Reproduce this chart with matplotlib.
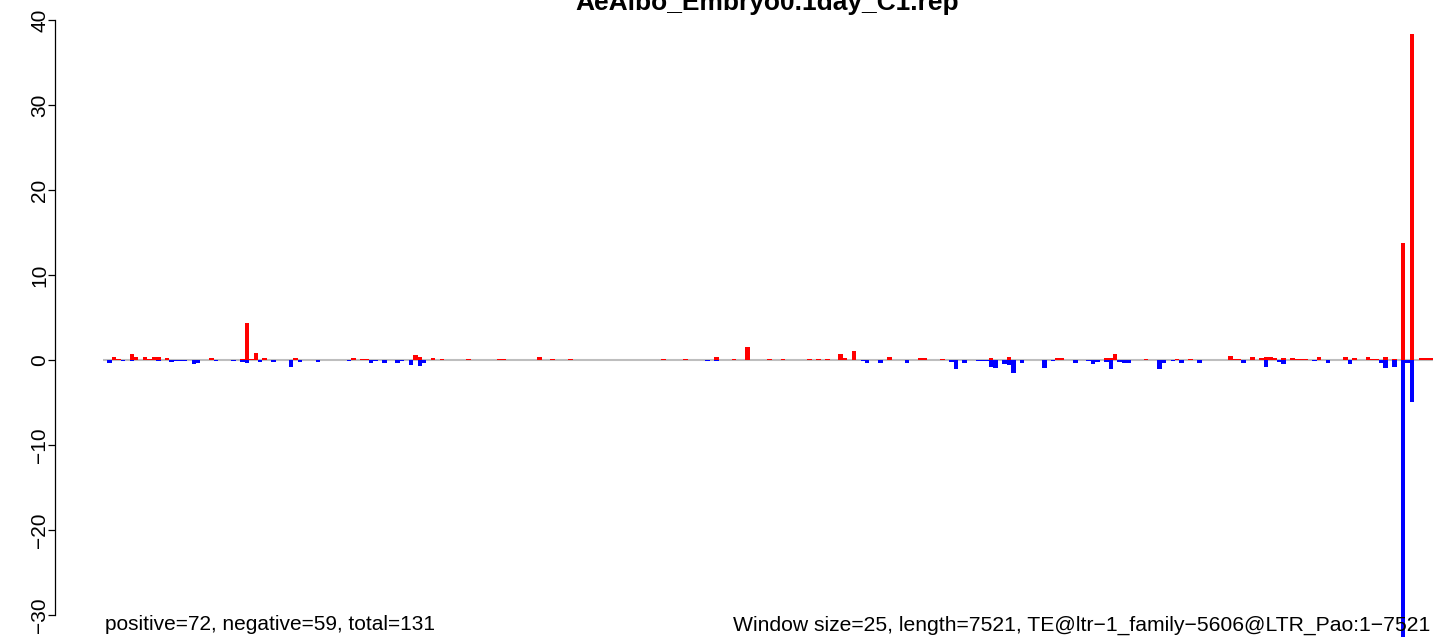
import matplotlib
matplotlib.use("Agg")
import matplotlib.pyplot as plt
import numpy as np

plt.rcParams['font.family'] = ['Liberation Sans', 'DejaVu Sans']

# window data (window size 25 over length 7521 -> 301 windows)
n_windows = 301
pos_idx = [2, 3, 6, 7, 9, 10, 11, 12, 14, 24, 31, 32, 33, 34, 36, 43, 56, 58, 59,
           70, 71, 74, 76, 82, 89, 90, 98, 101, 105, 126, 131, 138, 142, 145, 150,
           153, 159, 161, 163, 166, 167, 169, 177, 184, 185, 189, 200, 204, 215, 216,
           226, 227, 228, 235, 242, 245, 254, 255, 256, 259, 261, 262, 263, 264, 266,
           268, 269, 270, 271, 274, 280, 282, 285, 286, 287, 289, 291, 293, 295, 297,
           298, 299, 300]
pos_val = [0.35, 0.15, 0.7, 0.3, 0.35, 0.15, 0.35, 0.35, 0.2, 0.2, 0.15, 4.3, 0.15, 0.8,
           0.2, 0.2, 0.2, 0.15, 0.15, 0.55, 0.3, 0.2, 0.15, 0.15, 0.15, 0.15, 0.3, 0.15,
           0.15, 0.15, 0.15, 0.3, 0.15, 1.5, 0.15, 0.15, 0.15, 0.15, 0.15, 0.7, 0.2, 1.1,
           0.35, 0.2, 0.2, 0.15, 0.2, 0.35, 0.2, 0.2, 0.2, 0.2, 0.7, 0.15, 0.15, 0.15, 0.5,
           0.15, 0.15, 0.3, 0.2, 0.3, 0.3, 0.2, 0.2, 0.25, 0.15, 0.15, 0.15, 0.3, 0.3,
           0.2, 0.3, 0.15, 0.15, 0.3, 0.15, 13.8, 38.3, 0.2, 0.2, 0.2, 0.2]
neg_idx = [1, 4, 6, 12, 15, 16, 17, 18, 20, 21, 25, 29, 31, 32, 35, 38, 42, 44, 48, 55,
           60, 61, 63, 66, 67, 69, 71, 72, 136, 138, 171, 172, 175, 181, 191, 192, 194,
           197, 198, 199, 200, 201, 203, 204, 205, 207, 212, 214, 219, 222, 223, 224,
           226, 227, 229, 230, 231, 238, 239, 241, 243, 247, 257, 262, 265, 266, 273,
           276, 281, 288, 289, 291, 293, 294, 295]
neg_val = [-0.3, -0.1, -0.1, -0.1, -0.2, -0.1, -0.1, -0.1, -0.5, -0.3, -0.1, -0.1, -0.2,
           -0.4, -0.2, -0.2, -0.8, -0.2, -0.2, -0.1, -0.4, -0.1, -0.3, -0.3, -0.1, -0.6,
           -0.7, -0.4, -0.1, -0.1, -0.1, -0.4, -0.4, -0.4, -0.2, -1.1, -0.3, -0.1, -0.1,
           -0.1, -0.8, -1.0, -0.5, -0.6, -1.5, -0.4, -0.9, -0.1, -0.4, -0.1, -0.5, -0.2,
           -0.2, -1.1, -0.2, -0.4, -0.4, -1.1, -0.4, -0.1, -0.3, -0.3, -0.4, -0.8, -0.2,
           -0.5, -0.1, -0.3, -0.5, -0.4, -1.0, -0.8, -34.0, -0.4, -4.9]
yticks = [-30, -20, -10, 0, 10, 20, 30, 40]

title = "AeAlbo_Embryo0.1day_C1.rep"
left_note = "positive=72, negative=59, total=131"
right_note = "Window size=25, length=7521, TE@ltr\u22121_family\u22125606@LTR_Pao:1\u22127521"

pos = np.zeros(n_windows)
neg = np.zeros(n_windows)
pos[pos_idx] = pos_val
neg[neg_idx] = neg_val
x = np.arange(n_windows)

W, H = 1433, 637
fig = plt.figure(figsize=(W / 100, H / 100), dpi=100)
ax = fig.add_axes([55 / W, 0, 1 - 55 / W, 1])

# baseline
ax.plot([0, n_windows], [0, 0], color='#BEBEBE', lw=1.5, zorder=1, solid_capstyle='butt')
ax.bar(x, pos, width=1, align='edge', color='#FF0000', linewidth=0, zorder=2)
ax.bar(x, neg, width=1, align='edge', color='#0000FF', linewidth=0, zorder=2)

ax.set_xlim(-10.835, 300.23)
ax.set_ylim(-32.59, 42.35)

for s in ['top', 'right', 'bottom']:
    ax.spines[s].set_visible(False)
ax.spines['left'].set_bounds(-30, 40)
ax.spines['left'].set_linewidth(0.9)
ax.set_xticks([])
ax.set_yticks(yticks)
ax.set_yticklabels([str(t).replace('-', '\u2212') for t in yticks],
                   rotation=90, va='center', fontsize=15)
ax.tick_params(axis='y', length=5, width=0.9, pad=-1)

fig.text(767 / W, 1 - 10 / H, title, ha='center', va='baseline',
         fontsize=19, fontweight='bold')
fig.text(105 / W, 1 - 625 / H, left_note, ha='left', va='center', fontsize=15)
fig.text(1430 / W, 1 - 625 / H, right_note, ha='right', va='center', fontsize=15.2)

fig.savefig("out.png", dpi=100)
